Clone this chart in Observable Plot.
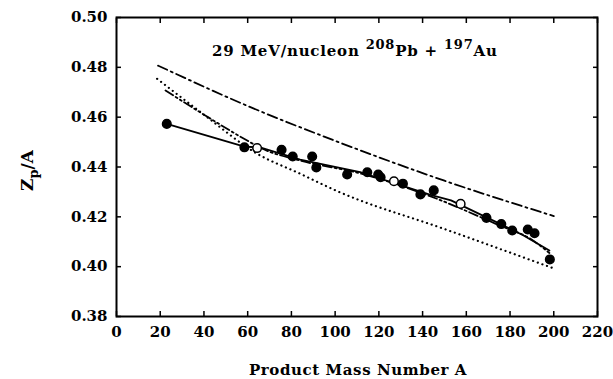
<!DOCTYPE html>
<html><head><meta charset="utf-8">
<script src="https://cdn.jsdelivr.net/npm/d3@7"></script>
<script src="https://cdn.jsdelivr.net/npm/@observablehq/plot@0.6"></script>
<style>body{margin:0;background:#fff} svg{font-family:"DejaVu Serif",serif;font-weight:bold}</style>
</head><body><div id="chart"></div>
<script>
// measured points
const ptA = [23, 58.5, 64.3, 75.5, 80.6, 89.5, 91.4, 105.5, 114.7, 119.7, 120.8, 126.9, 131, 139, 145.1, 157.4, 169.2, 176, 181, 188.1, 191.2, 198.2];
const ptZ = [0.4573, 0.4479, 0.4476, 0.4469, 0.4442, 0.4442, 0.4398, 0.4370, 0.4379, 0.4370, 0.4359, 0.4343, 0.4333, 0.4290, 0.4306, 0.4252, 0.4196, 0.4171, 0.4145, 0.4149, 0.4134, 0.4029];
const ptOpen = [false, false, true, false, false, false, false, false, false, false, false, true, false, false, false, true, false, false, false, false, false, false];
// solid curve
const solidA = [23, 58.5, 66, 84, 112, 144, 153, 174, 186, 198];
const solidZ = [0.4573, 0.4482, 0.4478, 0.4430, 0.4378, 0.4287, 0.4266, 0.4178, 0.4126, 0.4065];
// dash-dot curve (upper)
const dashDotA = [19, 60, 100, 150, 200];
const dashDotZ = [0.4807, 0.4645, 0.4505, 0.4345, 0.4203];
// dotted curve (lower)
const dotA = [18.6, 40, 64, 84, 101, 151, 200];
const dotZ = [0.4754, 0.4610, 0.4455, 0.4373, 0.4303, 0.4148, 0.3993];
// dash-dot-dot curve
const ddA = [22.4, 40, 60, 66, 84, 112, 144, 174, 190, 198];
const ddZ = [0.4707, 0.4610, 0.4505, 0.4476, 0.4426, 0.4373, 0.4281, 0.4170, 0.4108, 0.4055];
const xTicks = [0, 20, 40, 60, 80, 100, 120, 140, 160, 180, 200, 220];
const yTicks = [0.38, 0.40, 0.42, 0.44, 0.46, 0.48, 0.50];
const titleAnchor = {A: 43.9, Z: 0.4843};

const pts = ptA.map((a, i) => ({A: a, Z: ptZ[i], open: ptOpen[i]}));
const mk = (xs, ys) => xs.map((a, i) => ({A: a, Z: ys[i]}));

const plot = Plot.plot({
  width: 613, height: 379,
  marginLeft: 116, marginRight: 16, marginTop: 17, marginBottom: 63,
  style: {fontFamily: "DejaVu Serif", fontWeight: "bold", fontSize: "15px", background: "white", color: "black"},
  x: {domain: [0, 220], ticks: xTicks},
  y: {domain: [0.38, 0.50], ticks: yTicks},
  marks: [
    Plot.axisX({anchor: "bottom", ticks: xTicks, tickSize: 0, tickPadding: 10, label: null, tickFormat: d3.format("d")}),
    Plot.axisX({anchor: "bottom", ticks: xTicks, tickSize: -5, text: null, label: null, strokeWidth: 1.5}),
    Plot.axisX({anchor: "top", ticks: xTicks, tickSize: -5, text: null, label: null, strokeWidth: 1.5}),
    Plot.axisY({anchor: "left", ticks: yTicks, tickSize: 0, tickPadding: 9, label: null, tickFormat: d3.format(".2f"), style: {letterSpacing: "0.9px"}}),
    Plot.axisY({anchor: "left", ticks: yTicks, tickSize: -5, text: null, label: null, strokeWidth: 1.5}),
    Plot.axisY({anchor: "right", ticks: yTicks, tickSize: -5, text: null, label: null, strokeWidth: 1.5}),
    Plot.line(mk(dashDotA, dashDotZ), {x: "A", y: "Z", stroke: "black", strokeWidth: 1.8, strokeDasharray: "10,4,2,4", curve: "monotone-x"}),
    Plot.line(mk(dotA, dotZ), {x: "A", y: "Z", stroke: "black", strokeWidth: 2.2, strokeDasharray: "0.1,4.8", strokeLinecap: "round", curve: "monotone-x"}),
    Plot.line(mk(ddA, ddZ), {x: "A", y: "Z", stroke: "black", strokeWidth: 1.8, strokeDasharray: "9,3,2,3,2,3", curve: "monotone-x"}),
    Plot.line(mk(solidA, solidZ), {x: "A", y: "Z", stroke: "black", strokeWidth: 1.8, curve: "linear"}),
    Plot.dot(pts, {x: "A", y: "Z", r: 4.3, fill: d => d.open ? "white" : "black", stroke: "black", strokeWidth: 1.5}),
    Plot.frame({stroke: "black", strokeWidth: 2})
  ]
});

const svg = d3.select(plot);
const xs = plot.scale("x"), ys = plot.scale("y");
const t = svg.append("text")
  .attr("x", xs.apply(titleAnchor.A)).attr("y", ys.apply(titleAnchor.Z))
  .attr("text-anchor", "start").style("letter-spacing", "0.8px")
  .attr("font-size", 15).attr("font-weight", "bold").attr("fill", "black");
t.append("tspan").text("29 MeV/nucleon ");
t.append("tspan").attr("font-size", 13).attr("dy", -7).text("208");
t.append("tspan").attr("dy", 7).text("Pb + ");
t.append("tspan").attr("font-size", 13).attr("dy", -7).text("197");
t.append("tspan").attr("dy", 7).text("Au");

const yl = svg.append("text")
  .attr("transform", `translate(33,${(17 + 316) / 2 + 4}) rotate(-90)`)
  .attr("text-anchor", "middle").attr("font-size", 17).attr("font-weight", "bold").attr("fill", "black");
yl.append("tspan").text("Z");
yl.append("tspan").attr("font-size", 13).attr("dy", 5).text("p");
yl.append("tspan").attr("dy", -5).text("/A");

svg.append("text")
  .attr("x", 358).attr("y", 375)
  .attr("text-anchor", "middle").style("letter-spacing", "0.6px")
  .attr("font-size", 15).attr("font-weight", "bold").attr("fill", "black")
  .text("Product Mass Number A");

document.getElementById("chart").appendChild(plot);
</script>
</body></html>
